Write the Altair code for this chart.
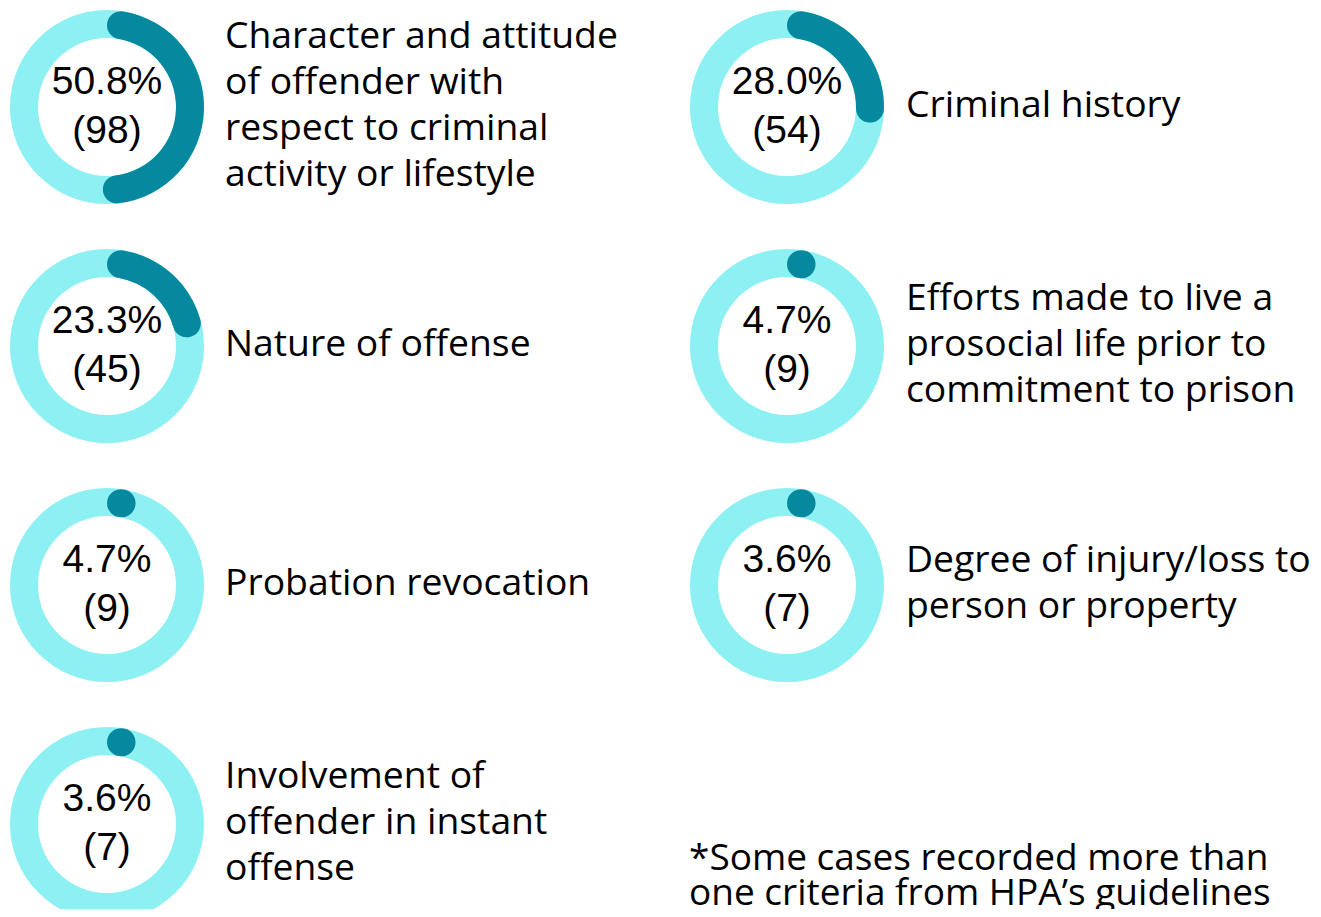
import math
import altair as alt

# ---- data ----
labels = [
    ["Character and attitude", "of offender with", "respect to criminal", "activity or lifestyle"],
    ["Criminal history"],
    ["Nature of offense"],
    ["Efforts made to live a", "prosocial life prior to", "commitment to prison"],
    ["Probation revocation"],
    ["Degree of injury/loss to", "person or property"],
    ["Involvement of", "offender in instant", "offense"],
]
pcts = [50.8, 28.0, 23.3, 4.7, 4.7, 3.6, 3.6]
counts = [98, 54, 45, 9, 9, 7, 7]
footnote = [
    "*Some cases recorded more than",
    "one criteria from HPA\u2019s guidelines",
    "as listed, and therefore totals exceed 100%",
]

LIGHT = "#8DF0F3"
DARK = "#06889E"
CY = 99
R_OUT, R_IN = 97, 69
CELL_W_L, CELL_W_R = 661, 624
ROW_H = 239
LAST_H = 184
LABEL_LH = 46
FS = 37.3
MIN_ARC = 5.5  # smallest drawn extent (%) so a tiny share shows as a round dot

records = [
    {"idx": i, "label": labels[i], "pct": pcts[i], "n": counts[i],
     "center": [f"{pcts[i]:.1f}%", f"({counts[i]})"]}
    for i in range(len(labels))
]
data = alt.Data(values=records)


def panel(i, w, h, cx):
    base = alt.Chart(data).transform_filter(alt.datum.idx == i)
    ring = base.mark_arc(radius=R_OUT, radius2=R_IN, theta=0, theta2=2 * math.pi,
                         color=LIGHT, clip=True).encode(x=alt.value(cx), y=alt.value(CY))
    arc = base.transform_calculate(
        shown=f"max(datum.pct, {MIN_ARC})"
    ).mark_arc(radius=R_OUT, radius2=R_IN, cornerRadius=14, color=DARK, clip=True).encode(
        theta=alt.Theta("shown:Q", scale=alt.Scale(domain=[0, 100], range=[0, 2 * math.pi])),
        x=alt.value(cx), y=alt.value(CY))
    center = base.mark_text(font="Liberation Sans", fontSize=39, lineHeight=49,
                            align="center", baseline="middle", color="#000000", clip=True).encode(
        text="center:N", x=alt.value(cx), y=alt.value(CY - 25))
    lab = base.transform_calculate(
        ly=f"{CY - 1} - (length(datum.label) - 1) * {LABEL_LH / 2}"
    ).mark_text(font="Open Sans", fontSize=FS, lineHeight=LABEL_LH,
                align="left", baseline="middle", color="#000000", clip=True).encode(
        text="label:N", x=alt.value(217),
        y=alt.Y("ly:Q", scale=None, axis=None))
    return alt.layer(ring, arc, center, lab).properties(width=w, height=h)


note = alt.Chart(alt.Data(values=[{"t": footnote}])).mark_text(
    font="Open Sans", fontSize=37, lineHeight=34.5, align="left", baseline="middle",
    color="#000000", clip=True).encode(text="t:N", x=alt.value(0), y=alt.value(134)).properties(
    width=CELL_W_R, height=LAST_H)

panels = [
    panel(0, CELL_W_L, ROW_H, 99), panel(1, CELL_W_R, ROW_H, 98),
    panel(2, CELL_W_L, ROW_H, 99), panel(3, CELL_W_R, ROW_H, 98),
    panel(4, CELL_W_L, ROW_H, 99), panel(5, CELL_W_R, ROW_H, 98),
    panel(6, CELL_W_L, LAST_H, 99), note,
]

chart = alt.concat(*panels, columns=2, spacing={"row": 0, "column": 20}, bounds="flush").properties(
    padding=0).configure_view(strokeWidth=0)
chart.save("out.html", embed_options={"renderer": "svg", "actions": False})
